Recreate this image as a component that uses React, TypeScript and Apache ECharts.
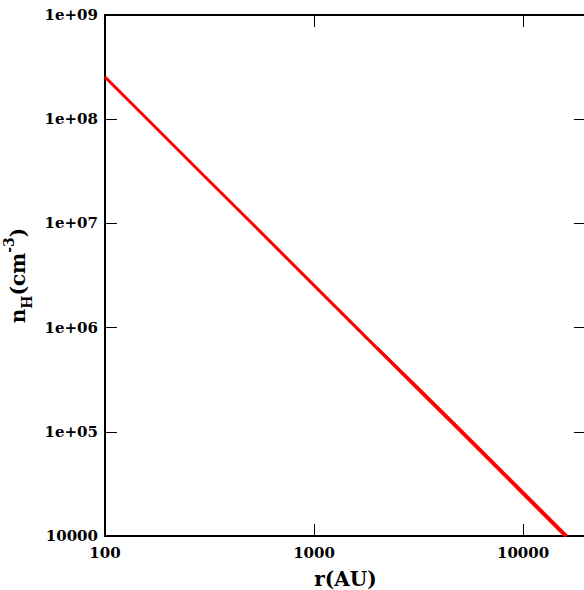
import React, { useEffect, useRef } from "react";
import * as echarts from "echarts";

const radiusAU = [100, 200, 300, 500, 1000, 2000, 3000, 5000, 10000, 15900];
const densityNH = [2.54e8, 6.35e7, 2.82e7, 1.02e7, 2.54e6, 6.35e5, 2.82e5, 1.02e5, 2.54e4, 1.0e4];
const radiusAU2 = [2000, 3000, 5000, 10000, 16200];
const densityNH2 = [6.4e5, 2.88e5, 1.05e5, 2.62e4, 1.0e4];

const FONT = "DejaVu Serif";

function fmtY(v: number): string {
  if (Math.abs(v - 1e4) < 1) return "10000";
  const e = Math.round(Math.log10(v));
  return "1e+" + (e < 10 ? "0" + e : String(e));
}

export default function App() {
  const ref = useRef<HTMLDivElement>(null);
  useEffect(() => {
    document.body.style.margin = "0";
    const chart = echarts.init(ref.current!, undefined, { renderer: "svg" });
    const axisLine = { show: true, lineStyle: { color: "#000", width: 2 } };
    const axisTick = { show: true, inside: true, length: 12, lineStyle: { color: "#000", width: 1 } };
    const label = { fontFamily: FONT, fontWeight: "bold" as const, fontSize: 15, color: "#000" };
    chart.setOption({
      animation: false,
      backgroundColor: "#fff",
      grid: { left: 105, top: 15, right: 14, bottom: 54, outerBoundsMode: "none", containLabel: false },
      xAxis: [
        {
          type: "log",
          logBase: 10,
          min: 100,
          max: 20000,
          interval: 1,
          position: "bottom",
          axisLine,
          axisTick,
          splitLine: { show: false },
          minorTick: { show: false },
          axisLabel: { ...label, margin: 9, showMaxLabel: false, formatter: (v: number) => String(Math.round(v)) },
          name: "r(AU)",
          nameLocation: "middle",
          nameGap: 33,
          nameTextStyle: { fontFamily: FONT, fontWeight: "bold", fontSize: 20, lineHeight: 20, color: "#000" },
        },
        {
          type: "log",
          logBase: 10,
          min: 100,
          max: 20000,
          interval: 1,
          position: "top",
          axisLine,
          axisTick,
          splitLine: { show: false },
          axisLabel: { show: false },
        },
      ],
      yAxis: [
        {
          type: "log",
          logBase: 10,
          min: 1e4,
          max: 1e9,
          interval: 1,
          position: "left",
          axisLine,
          axisTick,
          splitLine: { show: false },
          axisLabel: { ...label, margin: 7, formatter: (v: number) => fmtY(v) },
          name: "{n|n}{sub|H}{p|(cm}{sup|-3}{p|)}",
          nameLocation: "middle",
          nameRotate: 90,
          nameGap: 64,
          nameTextStyle: {
            rich: {
              n: { fontFamily: FONT, fontWeight: "bold", fontSize: 20, color: "#000", lineHeight: 32, verticalAlign: "middle" },
              p: { fontFamily: FONT, fontWeight: "bold", fontSize: 20, color: "#000", lineHeight: 32, verticalAlign: "middle" },
              sub: { fontFamily: FONT, fontWeight: "bold", fontSize: 14, color: "#000", lineHeight: 14, verticalAlign: "bottom" },
              sup: { fontFamily: FONT, fontWeight: "bold", fontSize: 14, color: "#000", lineHeight: 14, verticalAlign: "top" },
            },
          },
        },
        {
          type: "log",
          logBase: 10,
          min: 1e4,
          max: 1e9,
          interval: 1,
          position: "right",
          axisLine,
          axisTick,
          splitLine: { show: false },
          axisLabel: { show: false },
        },
      ],
      series: [
        {
          type: "line",
          data: radiusAU.map((r, i) => [r, densityNH[i]]),
          showSymbol: false,
          symbol: "none",
          lineStyle: { color: "#ff0000", width: 3 },
          clip: true,
        },
        {
          type: "line",
          data: radiusAU2.map((r, i) => [r, densityNH2[i]]),
          showSymbol: false,
          symbol: "none",
          lineStyle: { color: "#ff0000", width: 3 },
          clip: true,
        },
      ],
    });
    return () => chart.dispose();
  }, []);
  return (
    <div style={{ position: "fixed", left: 0, top: 0, width: 584, height: 590, overflow: "hidden", background: "#fff" }}>
      <div ref={ref} style={{ width: 600, height: 590 }} />
    </div>
  );
}
